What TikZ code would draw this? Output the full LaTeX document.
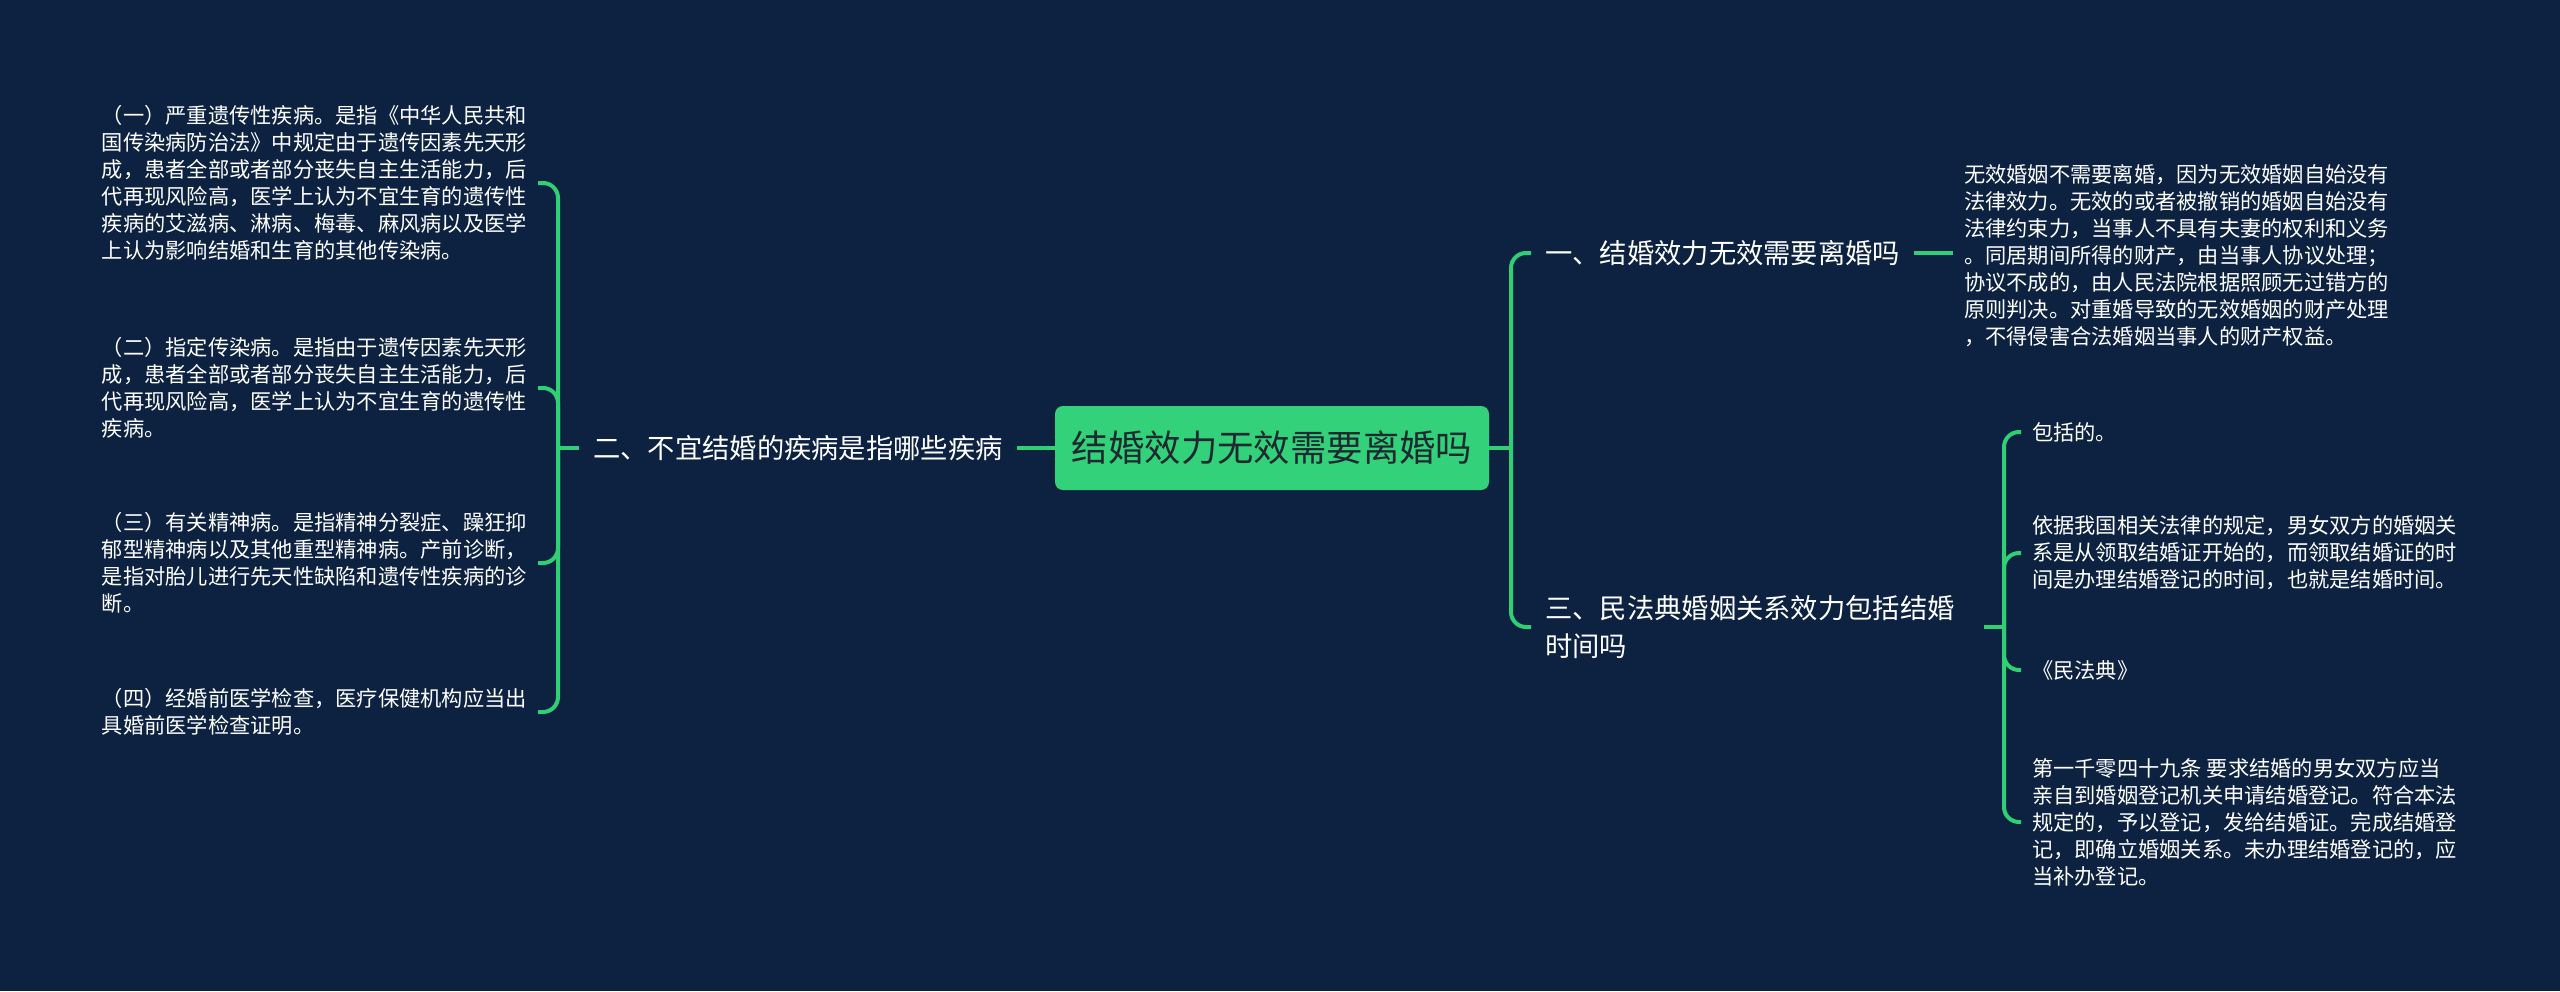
\documentclass[tikz,border=0pt]{standalone}
\usepackage{fontspec}
\setmainfont{Noto Sans CJK SC}
\definecolor{bg}{HTML}{0C2240}
\definecolor{gline}{HTML}{2FCF74}
\definecolor{boxg}{HTML}{33D27A}
\definecolor{ctext}{HTML}{1E2A30}
\begin{document}
\begin{tikzpicture}[x=1pt,y=-1pt,
  conn/.style={draw=gline,line width=4pt,rounded corners=15pt},
  leaf/.style={inner xsep=11pt,inner ysep=2pt,align=left,text=white,font=\fontsize{21.25}{27}\selectfont},
  branch/.style={anchor=west,inner xsep=14pt,inner ysep=2pt,align=left,text=white,font=\fontsize{27.3}{38}\selectfont},
  rootbox/.style={fill=boxg,rounded corners=8pt,minimum width=434pt,minimum height=84pt,text=ctext,font=\fontsize{36.4}{40}\selectfont}
]
\fill[bg] (0,0) rectangle (2560,991);
\useasboundingbox (0,0) rectangle (2560,991);

\node[rootbox] (root) at (1272,448) {结婚效力无效需要离婚吗};

% left branch
\node[branch] (lb) at (579,448) {二、不宜结婚的疾病是指哪些疾病};
\coordinate (lk) at (558,448);
\draw[conn] (root.west) -- (lb.east);
\draw[conn] (lb.west) -- (lk);

\node[leaf,anchor=east] (l1) at (538,183) {（一）严重遗传性疾病。是指《中华人民共和\\国传染病防治法》中规定由于遗传因素先天形\\成，患者全部或者部分丧失自主生活能力，后\\代再现风险高，医学上认为不宜生育的遗传性\\疾病的艾滋病、淋病、梅毒、麻风病以及医学\\上认为影响结婚和生育的其他传染病。};
\node[leaf,anchor=east] (l2) at (538,388) {（二）指定传染病。是指由于遗传因素先天形\\成，患者全部或者部分丧失自主生活能力，后\\代再现风险高，医学上认为不宜生育的遗传性\\疾病。};
\node[leaf,anchor=east] (l3) at (538,563) {（三）有关精神病。是指精神分裂症、躁狂抑\\郁型精神病以及其他重型精神病。产前诊断，\\是指对胎儿进行先天性缺陷和遗传性疾病的诊\\断。};
\node[leaf,anchor=east] (l4) at (538,712) {（四）经婚前医学检查，医疗保健机构应当出\\具婚前医学检查证明。};
\draw[conn] (lk) |- (l1.east);
\draw[conn] (lk) |- (l2.east);
\draw[conn] (lk) |- (l3.east);
\draw[conn] (lk) |- (l4.east);

% right branches
\coordinate (rk) at (1511,448);
\draw[conn] (root.east) -- (rk);
\node[branch] (rb1) at (1531,253) {一、结婚效力无效需要离婚吗};
\node[branch,text width=425pt] (rb3) at (1531,627) {三、民法典婚姻关系效力包括结婚\\时间吗};
\draw[conn] (rk) |- (rb1.west);
\draw[conn] (rk) |- (rb3.west);

\node[leaf,anchor=west] (r1) at (1953,256) {无效婚姻不需要离婚，因为无效婚姻自始没有\\法律效力。无效的或者被撤销的婚姻自始没有\\法律约束力，当事人不具有夫妻的权利和义务\\。同居期间所得的财产，由当事人协议处理；\\协议不成的，由人民法院根据照顾无过错方的\\原则判决。对重婚导致的无效婚姻的财产处理\\，不得侵害合法婚姻当事人的财产权益。};
\draw[conn] (rb1.east) -- (rb1.east -| r1.west);

\coordinate (sk) at (2004,627);
\draw[conn] (rb3.east) -- (sk);
\node[leaf,anchor=west] (s1) at (2021,432) {包括的。};
\node[leaf,anchor=west] (s2) at (2021,553) {依据我国相关法律的规定，男女双方的婚姻关\\系是从领取结婚证开始的，而领取结婚证的时\\间是办理结婚登记的时间，也就是结婚时间。};
\node[leaf,anchor=west] (s3) at (2021,670) {《民法典》};
\node[leaf,anchor=west] (s4) at (2021,822) {第一千零四十九条 要求结婚的男女双方应当\\亲自到婚姻登记机关申请结婚登记。符合本法\\规定的，予以登记，发给结婚证。完成结婚登\\记，即确立婚姻关系。未办理结婚登记的，应\\当补办登记。};
\draw[conn] (sk) |- (s1.west);
\draw[conn] (sk) |- (s2.west);
\draw[conn] (sk) |- (s3.west);
\draw[conn] (sk) |- (s4.west);
\end{tikzpicture}
\end{document}
